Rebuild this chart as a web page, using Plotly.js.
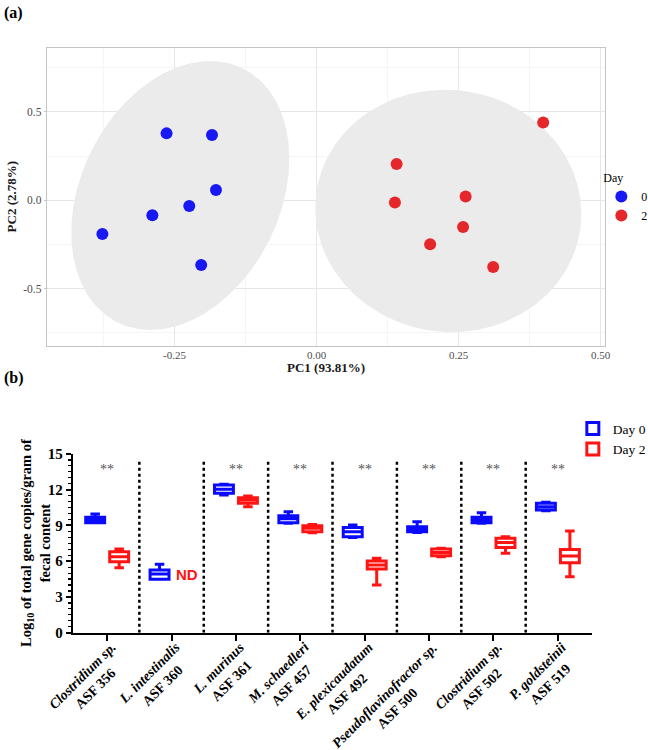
<!DOCTYPE html>
<html>
<head>
<meta charset="utf-8">
<script src="https://cdn.plot.ly/plotly-3.0.1.min.js"></script>
<style>html,body{margin:0;padding:0;background:#fff;}#chart{width:648px;height:750px;}</style>
</head>
<body>
<div id="chart"></div>
<script>
// ---------- Panel (a): PCA scores ----------
const pcaDay0X = [-0.264, -0.184, -0.177, -0.224, -0.289, -0.377, -0.203];
const pcaDay0Y = [0.379, 0.370, 0.058, -0.032, -0.085, -0.191, -0.366];
const pcaDay2X = [0.399, 0.141, 0.138, 0.2625, 0.258, 0.200, 0.311];
const pcaDay2Y = [0.440, 0.206, -0.013, 0.021, -0.151, -0.249, -0.377];
const pcaGroups = ['0', '2'];

// ---------- Panel (b): qPCR box plots ----------
const species = ['Clostridium sp.', 'L. intestinalis', 'L. murinus', 'M. schaedleri',
                 'E. plexicaudatum', 'Pseudoflavinofractor sp.', 'Clostridium sp.', 'P. goldsteinii'];
const strains = ['ASF 356', 'ASF 360', 'ASF 361', 'ASF 457', 'ASF 492', 'ASF 500', 'ASF 502', 'ASF 519'];
const signif = ['**', '', '**', '**', '**', '**', '**', '**'];

const d0Pos   = [0, 1, 2, 3, 4, 5, 6, 7];
const d0Low   = [9.23, 4.48, 11.56, 9.18, 8.00, 8.42, 9.18, 10.24];
const d0Q1    = [9.23, 4.48, 11.70, 9.23, 8.06, 8.48, 9.23, 10.30];
const d0Med   = [9.46, 4.92, 12.03, 9.57, 8.48, 8.70, 9.46, 10.58];
const d0Q3    = [9.68, 5.26, 12.40, 9.82, 8.84, 8.90, 9.68, 10.86];
const d0High  = [9.96, 5.74, 12.45, 10.16, 9.04, 9.32, 10.07, 10.94];

const d2Pos   = [0, 2, 3, 4, 5, 6, 7];          // ASF 360 not detected on day 2
const d2Low   = [5.46, 10.58, 8.39, 4.00, 6.38, 6.66, 4.70];
const d2Q1    = [5.96, 10.86, 8.48, 5.34, 6.46, 7.16, 5.88];
const d2Med   = [6.38, 11.14, 8.76, 5.68, 6.74, 7.58, 6.44];
const d2Q3    = [6.80, 11.33, 8.98, 6.02, 7.02, 7.92, 6.99];
const d2High  = [7.02, 11.47, 9.09, 6.24, 7.08, 8.06, 8.53];
const ndLabel = 'ND';
const ndIndex = 1;
const ndValue = 4.9;

// ---------- helpers: robust (t) covariance ellipse like ggplot2::stat_ellipse ----------
function sum(a) { return a.reduce((s, v) => s + v, 0); }
function covTrob(xs, ys, nu = 5, maxit = 25, tol = 0.01) {
  const n = xs.length, p = 2;
  let w = new Array(n).fill(1);
  let lx = sum(xs) / n, ly = sum(ys) / n;
  let X = [];
  for (let it = 0; it < maxit; it++) {
    const w0 = w.slice();
    X = xs.map((x, i) => [x - lx, ys[i] - ly]);
    const sw = sum(w);
    let a = 0, b = 0, c = 0;
    X.forEach((r, i) => { a += w[i] / sw * r[0] * r[0]; b += w[i] / sw * r[0] * r[1]; c += w[i] / sw * r[1] * r[1]; });
    const det = a * c - b * b;
    const Q = X.map(([u, v]) => (c * u * u - 2 * b * u * v + a * v * v) / det);
    w = Q.map(q => (nu + p) / (nu + q));
    const sw2 = sum(w);
    lx = sum(xs.map((x, i) => w[i] * x)) / sw2;
    ly = sum(ys.map((y, i) => w[i] * y)) / sw2;
    if (w.every((wi, i) => Math.abs(wi - w0[i]) < tol)) break;
  }
  let a = 0, b = 0, c = 0;
  X.forEach((r, i) => { a += w[i] * r[0] * r[0]; b += w[i] * r[0] * r[1]; c += w[i] * r[1] * r[1]; });
  return { center: [lx, ly], cov: [a / n, b / n, c / n] };
}
function ellipsePath(xs, ys, level = 0.95, segs = 51) {
  const { center, cov } = covTrob(xs, ys);
  const d2 = xs.length - 1;
  const qf = (d2 / 2) * (Math.pow(1 - level, -2 / d2) - 1); // F(2,d2) quantile
  const radius = Math.sqrt(2 * qf);
  const r11 = Math.sqrt(cov[0]), r12 = cov[1] / r11, r22 = Math.sqrt(cov[2] - r12 * r12);
  const ex = [], ey = [];
  for (let k = 0; k <= segs; k++) {
    const t = 2 * Math.PI * k / segs;
    ex.push(center[0] + radius * Math.cos(t) * r11);
    ey.push(center[1] + radius * (Math.cos(t) * r12 + Math.sin(t) * r22));
  }
  return { ex, ey };
}

const SERIF = 'Liberation Serif';
const BLUE_PT = '#1818f5', RED_PT = '#e5262b';
const BLUE = '#0a0aff', RED = '#ff1414';

const e0 = ellipsePath(pcaDay0X, pcaDay0Y);
const e2 = ellipsePath(pcaDay2X, pcaDay2Y);

const traces = [
  { x: e0.ex, y: e0.ey, xaxis: 'x', yaxis: 'y', type: 'scatter', mode: 'lines', fill: 'toself',
    fillcolor: '#ebebeb', line: { width: 0, color: 'rgba(0,0,0,0)' }, showlegend: false, hoverinfo: 'skip' },
  { x: e2.ex, y: e2.ey, xaxis: 'x', yaxis: 'y', type: 'scatter', mode: 'lines', fill: 'toself',
    fillcolor: '#ebebeb', line: { width: 0, color: 'rgba(0,0,0,0)' }, showlegend: false, hoverinfo: 'skip' },
  { x: pcaDay0X, y: pcaDay0Y, xaxis: 'x', yaxis: 'y', type: 'scatter', mode: 'markers', name: pcaGroups[0],
    marker: { color: BLUE_PT, size: 12 }, legend: 'legend' },
  { x: pcaDay2X, y: pcaDay2Y, xaxis: 'x', yaxis: 'y', type: 'scatter', mode: 'markers', name: pcaGroups[1],
    marker: { color: RED_PT, size: 12 }, legend: 'legend' },
  { type: 'box', xaxis: 'x2', yaxis: 'y2', name: 'Day 0', x: d0Pos, q1: d0Q1, median: d0Med, q3: d0Q3,
    lowerfence: d0Low, upperfence: d0High, line: { color: BLUE, width: 3 }, fillcolor: 'white',
    whiskerwidth: 0.5, offsetgroup: 'd0', legend: 'legend2' },
  { type: 'box', xaxis: 'x2', yaxis: 'y2', name: 'Day 2', x: d2Pos, q1: d2Q1, median: d2Med, q3: d2Q3,
    lowerfence: d2Low, upperfence: d2High, line: { color: RED, width: 3 }, fillcolor: 'white',
    whiskerwidth: 0.5, offsetgroup: 'd2', legend: 'legend2' }
];

const annotations = [
  { text: '<b>(a)</b>', xref: 'paper', yref: 'paper', x: 0.003, y: 0.998, xanchor: 'left', yanchor: 'top',
    showarrow: false, font: { family: SERIF, size: 16, color: '#000' } },
  { text: '<b>(b)</b>', xref: 'paper', yref: 'paper', x: 0.003, y: 0.511, xanchor: 'left', yanchor: 'top',
    showarrow: false, font: { family: SERIF, size: 16, color: '#000' } },
  { text: '<b>PC1 (93.81%)</b>', xref: 'paper', yref: 'paper', x: 0.503, y: 0.5105, xanchor: 'center', yanchor: 'middle',
    showarrow: false, font: { family: SERIF, size: 13, color: '#1a1a1a' } },
  { text: ndLabel, xref: 'x2', yref: 'y2', x: ndIndex + 0.24, y: ndValue, showarrow: false,
    font: { family: 'Liberation Sans', size: 15, color: RED, weight: 'bold' } },
  { text: 'Log<sub>10</sub> of total gene copies/gram of<br>fecal content', xref: 'paper', yref: 'paper',
    x: 0.054, y: 0.276, xanchor: 'center', yanchor: 'middle', textangle: -90, showarrow: false, align: 'center',
    font: { family: SERIF, size: 14.5, color: '#000', weight: 'bold' } }
];
signif.forEach((s, i) => {
  if (s) annotations.push({ text: s, xref: 'x2', yref: 'y2', x: i, y: 13.7, showarrow: false,
    font: { family: SERIF, size: 14, color: '#555' } });
});
species.forEach((sp, i) => {
  annotations.push({ text: '<i>' + sp + '</i><br>' + strains[i], xref: 'x2', yref: 'paper',
    x: i, y: 0.151, xanchor: 'right', yanchor: 'top', xshift: 27, textangle: -45, align: 'center',
    showarrow: false, font: { family: SERIF, size: 14, color: '#000', weight: 'bold' } });
});

const shapes = [];
for (let i = 0; i < species.length - 1; i++) {
  shapes.push({ type: 'line', xref: 'x2', yref: 'y2', x0: i + 0.5, x1: i + 0.5, y0: 0, y1: 14.6,
    line: { color: '#000', width: 2.5, dash: 'dot' } });
}

const layout = {
  width: 648, height: 750,
  margin: { l: 0, r: 0, t: 0, b: 0, autoexpand: false },
  paper_bgcolor: '#fff', plot_bgcolor: '#fff',
  showlegend: true,
  boxmode: 'group', boxgap: 0.255, boxgroupgap: 0.21,
  xaxis: {
    domain: [0.0725, 0.9329], anchor: 'y', range: [-0.4745, 0.507],
    tickvals: [-0.25, 0, 0.25, 0.5], ticktext: ['-0.25', '0.00', '0.25', '0.50'],
    showgrid: true, gridcolor: '#e6e6e6', gridwidth: 1,
    minor: { dtick: 0.125, tick0: 0, showgrid: true, gridcolor: '#f3f3f3', gridwidth: 0.8 },
    zeroline: false, showline: true, mirror: true, linecolor: '#c4c4c4', linewidth: 1.2,
    ticks: '', ticklabelstandoff: -1,
    tickfont: { family: SERIF, size: 11, color: '#4d4d4d' }
  },
  yaxis: {
    domain: [0.5391, 0.9364], anchor: 'x', range: [-0.823, 0.864],
    tickvals: [-0.5, 0, 0.5], ticktext: ['-0.5', '0.0', '0.5'],
    showgrid: true, gridcolor: '#e6e6e6', gridwidth: 1,
    minor: { dtick: 0.25, tick0: 0, showgrid: true, gridcolor: '#f3f3f3', gridwidth: 0.8 },
    zeroline: false, showline: true, mirror: true, linecolor: '#c4c4c4', linewidth: 1.2,
    ticks: 'outside', ticklen: 2, tickcolor: '#c4c4c4',
    tickfont: { family: SERIF, size: 11.5, color: '#4d4d4d' },
    title: { text: '<b>PC2 (2.78%)</b>', font: { family: SERIF, size: 13, color: '#1a1a1a' }, standoff: 3 }
  },
  xaxis2: {
    domain: [0.1127, 0.9136], anchor: 'y2', range: [-0.53, 7.53],
    tickvals: d0Pos, showticklabels: false, showgrid: false, zeroline: false,
    showline: true, linecolor: '#000', linewidth: 2.2,
    ticks: 'outside', ticklen: 6, tickwidth: 2, tickcolor: '#000'
  },
  yaxis2: {
    domain: [0.1564, 0.3947], anchor: 'x2', range: [0, 15],
    tickvals: [0, 3, 6, 9, 12, 15], showgrid: false, zeroline: false,
    showline: true, linecolor: '#000', linewidth: 2.2,
    ticks: 'outside', ticklen: 5, tickwidth: 2, tickcolor: '#000',
    minor: { dtick: 0.5, tick0: 0, ticks: 'outside', ticklen: 3, tickwidth: 1.2, tickcolor: '#000' },
    tickfont: { family: SERIF, size: 15, color: '#000', weight: 'bold' }
  },
  legend: {
    x: 0.928, y: 0.778, xanchor: 'left', yanchor: 'top',
    title: { text: 'Day', font: { family: SERIF, size: 12, color: '#000' } },
    font: { family: SERIF, size: 12, color: '#000' },
    bgcolor: 'rgba(0,0,0,0)', itemwidth: 30, tracegroupgap: 0, itemsizing: 'constant'
  },
  legend2: {
    x: 0.884, y: 0.449, xanchor: 'left', yanchor: 'top',
    font: { family: SERIF, size: 13.5, color: '#000' },
    bgcolor: 'rgba(0,0,0,0)', tracegroupgap: 4
  },
  annotations: annotations,
  shapes: shapes
};

Plotly.newPlot('chart', traces, layout, { displayModeBar: false, staticPlot: true });
</script>
</body>
</html>
